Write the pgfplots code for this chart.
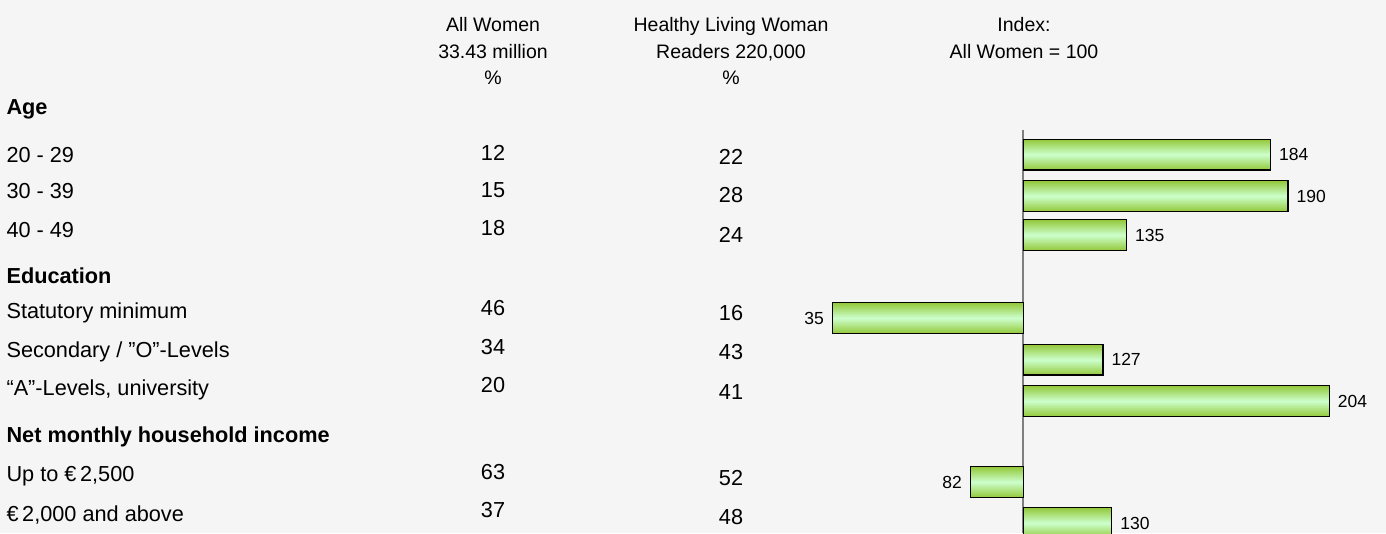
\documentclass[border=0pt]{standalone}
\usepackage{fontspec}
\setmainfont{Liberation Sans}
\usepackage{pgfplots}
\pgfplotsset{compat=1.18}
\definecolor{bg}{HTML}{F5F5F5}
\definecolor{gdark}{HTML}{93C83A}
\definecolor{glight}{HTML}{CCFFCC}
\definecolor{axgray}{HTML}{7F7F7F}
\newcommand{\rowfont}{\fontsize{21.7}{26}\selectfont}
\newcommand{\hdfont}{\fontsize{19.5}{26.5}\selectfont}
\begin{document}
\begin{tikzpicture}
\fill[bg] (0,0) rectangle (1386pt,533pt);
\path[use as bounding box] (0,0) rectangle (1386pt,533pt);
\begin{axis}[at={(0,0)},anchor=south west, scale only axis, width=1386pt, height=533pt,
  xmin=0, xmax=1386, ymin=0, ymax=533, y dir=reverse, hide axis, clip=false]
% headers
\node[align=center,font=\hdfont] at (axis cs:493,51) {All Women\\33.43 million\\\%};
\node[align=center,font=\hdfont] at (axis cs:731,51) {Healthy Living Woman\\Readers 220,000\\\%};
\node[align=center,font=\hdfont] at (axis cs:1024,38) {Index:\\All Women = 100};
% row labels
\node[anchor=west,font=\rowfont\bfseries] at (axis cs:3,109) {Age};
\node[anchor=west,font=\rowfont] at (axis cs:3,155) {20 - 29};
\node[anchor=west,font=\rowfont] at (axis cs:3,191) {30 - 39};
\node[anchor=west,font=\rowfont] at (axis cs:3,230) {40 - 49};
\node[anchor=west,font=\rowfont\bfseries] at (axis cs:3,276) {Education};
\node[anchor=west,font=\rowfont] at (axis cs:3,313) {Statutory minimum};
\node[anchor=west,font=\rowfont] at (axis cs:3,352) {Secondary / ”O”-Levels};
\node[anchor=west,font=\rowfont] at (axis cs:3,390) {“A”-Levels, university};
\node[anchor=west,font=\rowfont\bfseries] at (axis cs:3,437) {Net monthly household income};
\node[anchor=west,font=\rowfont] at (axis cs:3,476) {Up to €\,2,500};
\node[anchor=west,font=\rowfont] at (axis cs:3,515) {€\,2,000 and above};
% value columns
\addplot[draw=none, nodes near coords, nodes near coords align=center, point meta=explicit symbolic,
  every node near coord/.append style={font=\rowfont, inner sep=0pt}]
  coordinates {(493,153)[12] (493,190)[15] (493,228)[18] (493,308)[46] (493,347)[34] (493,385)[20] (493,472)[63] (493,510)[37]};
\addplot[draw=none, nodes near coords, nodes near coords align=center, point meta=explicit symbolic,
  every node near coord/.append style={font=\rowfont, inner sep=0pt}]
  coordinates {(731,157)[22] (731,195)[28] (731,235)[24] (731,313)[16] (731,352)[43] (731,392)[41] (731,478)[52] (731,517)[48]};
\end{axis}
\begin{axis}[at={(0,0)},anchor=south west, scale only axis, width=1386pt, height=533pt,
  xmin=-348.13, xmax=123.30, ymin=0, ymax=533, y dir=reverse, hide axis,
  /pgf/number format/assume math mode=true,
  idx/.style={xbar, bar width=30.7pt, bar shift=0pt, draw=black, line width=1.3pt,
    top color=gdark, bottom color=gdark, middle color=glight,
    nodes near coords={\pgfmathprintnumber{\pgfplotspointmeta}},
    nodes near coords align=horizontal, point meta=explicit,
    every node near coord/.append style={font=\fontsize{17.5}{20}\selectfont, inner xsep=8pt, inner ysep=0pt, color=black}},
  idxneg/.style={idx, every node near coord/.append style={anchor=east}}]
\addplot[axgray, line width=2pt] coordinates {(0,130) (0,533)};
\addplot[idx] coordinates {(84,154.5) [184]};
\addplot[idx] coordinates {(90,196) [190]};
\addplot[idx] coordinates {(35,235) [135]};
\addplot[idxneg] coordinates {(-65,318) [35]};
\addplot[idx] coordinates {(27,359.7) [127]};
\addplot[idx] coordinates {(104,401) [204]};
\addplot[idxneg] coordinates {(-18,482) [82]};
\addplot[idx] coordinates {(30,523) [130]};
\end{axis}
\end{tikzpicture}
\end{document}
